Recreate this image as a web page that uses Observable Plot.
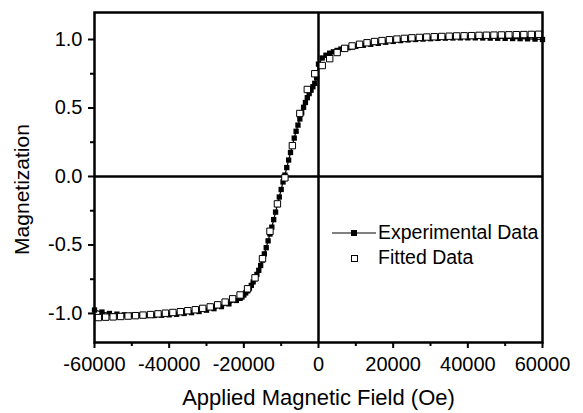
<!DOCTYPE html>
<html>
<head>
<meta charset="utf-8">
<script src="https://cdn.jsdelivr.net/npm/d3@7"></script>
<script src="https://cdn.jsdelivr.net/npm/@observablehq/plot@0.6"></script>
<style>
  body { margin: 0; background: #fff; }
  #wrap { position: relative; width: 583px; height: 413px; font-family: "Liberation Sans", Arial, sans-serif; }
  #legend { position: absolute; left: 331px; top: 220px; font-size: 19.5px; color: #000; line-height: 25px; }
  #legend .row { display: flex; align-items: center; height: 25px; }
  #legend svg { display: block; margin-right: 1px; }
</style>
</head>
<body>
<div id="wrap"><div id="legend"></div></div>
<script>
// Experimental data (field in Oe, normalized magnetization)
const expX = [-60000,-58000,-56000,-54000,-52000,-50000,-48000,-46000,-44000,-42000,-40000,-38000,-36000,-34000,-32000,-30000,-28000,-26000,-24000,-22000,
  -21000,-20500,-20000,-19500,-19000,-18500,-18000,-17500,-17000,-16500,-16000,-15500,-15000,-14500,-14000,-13500,-13000,-12500,-12000,-11500,-11000,-10500,-10000,-9500,-9000,-8500,-8000,-7500,-7000,-6500,-6000,-5500,-5000,-4500,-4000,-3500,-3000,-2500,-2000,-1500,-1000,-500,
  0,1000,2000,3000,4000,5000,6000,7000,8000,9000,10000,
  12000,14000,16000,18000,20000,22000,24000,26000,28000,30000,32000,34000,36000,38000,40000,42000,44000,46000,48000,50000,52000,54000,56000,58000,60000];
const expY = [-0.975,-0.99,-1.0,-1.005,-1.01,-1.012,-1.014,-1.015,-1.015,-1.013,-1.01,-1.006,-1.0,-0.994,-0.986,-0.976,-0.965,-0.95,-0.93,-0.905,
  -0.89,-0.88,-0.865,-0.85,-0.835,-0.815,-0.795,-0.77,-0.745,-0.715,-0.685,-0.65,-0.61,-0.565,-0.52,-0.47,-0.42,-0.37,-0.315,-0.26,-0.205,-0.15,-0.095,-0.04,0.01,0.065,0.12,0.175,0.225,0.28,0.33,0.375,0.42,0.465,0.505,0.54,0.575,0.605,0.63,0.655,0.68,0.72,
  0.82,0.865,0.885,0.9,0.91,0.92,0.93,0.935,0.94,0.945,0.95,
  0.958,0.965,0.972,0.98,0.986,0.992,0.997,1.0,1.003,1.006,1.008,1.01,1.011,1.012,1.012,1.012,1.011,1.01,1.009,1.008,1.007,1.006,1.005,1.003,1.0];

// Fitted data
const fitX = [-59000,-57000,-55000,-53000,-51000,-49000,-47000,-45000,-43000,-41000,-39000,-37000,-35000,-33000,-31000,-29000,-27000,-25000,-23000,-21000,
  -19000,-17000,-15000,-13000,-11000,-9000,-7000,-5000,-3000,-1000,
  1000,3000,5000,7000,9000,11000,13000,15000,17000,19000,21000,23000,25000,27000,29000,31000,33000,35000,37000,39000,
  41000,43000,45000,47000,49000,51000,53000,55000,57000,59000];
const fitY = [-1.03,-1.027,-1.025,-1.022,-1.019,-1.016,-1.012,-1.008,-1.003,-0.998,-0.993,-0.987,-0.98,-0.973,-0.963,-0.952,-0.937,-0.917,-0.893,-0.865,
  -0.82,-0.74,-0.60,-0.40,-0.20,-0.01,0.225,0.46,0.635,0.75,
  0.81,0.86,0.905,0.935,0.953,0.965,0.976,0.985,0.992,0.998,1.003,1.008,1.012,1.015,1.018,1.02,1.022,1.024,1.026,1.027,
  1.028,1.03,1.031,1.032,1.033,1.034,1.035,1.036,1.037,1.038];

// Ticks and labels
const xMajor = [-60000,-40000,-20000,0,20000,40000,60000];
const xMinor = [-50000,-30000,-10000,10000,30000,50000];
const yMajor = [-1.0,-0.5,0.0,0.5,1.0];
const yMinor = [-0.75,-0.25,0.25,0.75];
const xTitle = "Applied Magnetic Field (Oe)";
const yTitle = "Magnetization";
const seriesNames = ["Experimental Data", "Fitted Data"];

const exp = expX.map((x, i) => ({x, y: expY[i]}));
const fit = fitX.map((x, i) => ({x, y: fitY[i]}));

const chart = Plot.plot({
  width: 583,
  height: 413,
  marginLeft: 94,
  marginRight: 41,
  marginTop: 12,
  marginBottom: 71,
  style: {fontFamily: '"Liberation Sans", Arial, sans-serif', color: "#000", background: "#fff"},
  x: {domain: [-60000, 60000], label: null},
  y: {domain: [-1.212, 1.197], label: null},
  marks: [
    Plot.axisX(xMajor, {tickSize: 6, tickPadding: 8, strokeWidth: 2, fontSize: 20, tickFormat: d => String(d), label: null}),
    Plot.axisX(xMinor, {tickSize: 4, strokeWidth: 2, tickFormat: () => "", label: null}),
    Plot.axisY(yMajor, {tickSize: 6, tickPadding: 6, strokeWidth: 2, fontSize: 20, tickFormat: d => d.toFixed(1), label: null}),
    Plot.axisY(yMinor, {tickSize: 4, strokeWidth: 2, tickFormat: () => "", label: null}),
    Plot.ruleX([0], {stroke: "#000", strokeWidth: 2.5}),
    Plot.ruleY([0], {stroke: "#000", strokeWidth: 2.5}),
    Plot.line(exp, {x: "x", y: "y", stroke: "#000", strokeWidth: 1.2}),
    Plot.dot(exp, {x: "x", y: "y", symbol: "square", r: 3, fill: "#000", stroke: "none"}),
    Plot.dot(fit, {x: "x", y: "y", symbol: "square", r: 3.6, fill: "#fff", stroke: "#000", strokeWidth: 1}),
    Plot.frame({stroke: "#000", strokeWidth: 2.5}),
    Plot.text([yTitle], {frameAnchor: "left", textAnchor: "middle", lineAnchor: "middle", dx: -72, dy: 12, rotate: -90, fontSize: 21, fill: "#000"}),
    Plot.text([xTitle], {frameAnchor: "bottom", textAnchor: "middle", lineAnchor: "middle", dy: 55, fontSize: 22, fill: "#000"})
  ]
});
const wrap = document.getElementById("wrap");
wrap.insertBefore(chart, wrap.firstChild);

// Legend overlay inside the plot area
const legend = document.getElementById("legend");
const row1 = document.createElement("div");
row1.className = "row";
row1.innerHTML = `<svg width="46" height="20"><line x1="1" y1="10" x2="45" y2="10" stroke="#000" stroke-width="1"/><rect x="20" y="7" width="6" height="6" fill="#000"/></svg><span>${seriesNames[0]}</span>`;
const row2 = document.createElement("div");
row2.className = "row";
row2.innerHTML = `<svg width="46" height="20"><rect x="20.5" y="7.5" width="6" height="6" fill="#fff" stroke="#000" stroke-width="1"/></svg><span>${seriesNames[1]}</span>`;
legend.appendChild(row1);
legend.appendChild(row2);
</script>
</body>
</html>
